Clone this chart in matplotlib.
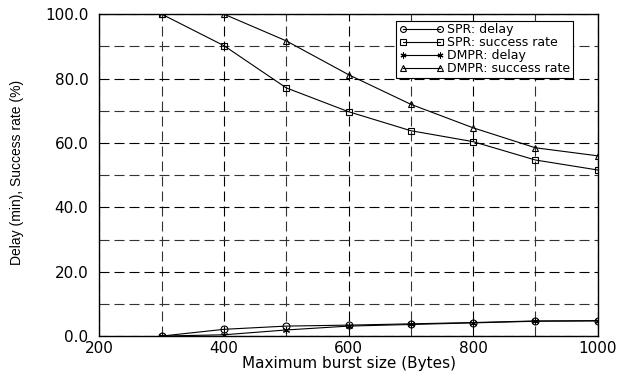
import matplotlib
matplotlib.use("Agg")
import matplotlib.pyplot as plt
from matplotlib.ticker import MultipleLocator, FormatStrFormatter

plt.rcParams["font.family"] = ["DejaVu Sans"]

# burst size (Bytes)
burst = [300, 400, 500, 600, 700, 800, 900, 1000]

spr_delay = [0.0, 2.1, 3.1, 3.4, 3.8, 4.2, 4.7, 4.8]
spr_success = [100.0, 90.2, 77.1, 69.7, 63.8, 60.4, 54.7, 51.6]
dmpr_delay = [0.0, 0.4, 1.9, 3.1, 3.6, 4.1, 4.6, 4.7]
dmpr_success = [100.0, 100.0, 91.7, 81.2, 72.0, 64.7, 58.5, 56.0]

fig = plt.figure(figsize=(6.18, 3.73), dpi=100)
ax = fig.add_axes([0.161, 0.099, 0.806, 0.863])

kw = dict(color="black", linewidth=0.8, markersize=5, markerfacecolor="none",
          markeredgecolor="black", markeredgewidth=0.8)
ax.plot(burst, spr_delay, marker="o", label="SPR: delay", **kw)
ax.plot(burst, spr_success, marker="s", label="SPR: success rate", **kw)
ax.plot(burst, dmpr_delay, marker=(6, 2, 0), label="DMPR: delay", **kw)
ax.plot(burst, dmpr_success, marker="^", label="DMPR: success rate", **kw)

ax.set_xlim(200, 1000)
ax.set_ylim(0, 100)
ax.xaxis.set_major_locator(MultipleLocator(200))
ax.xaxis.set_minor_locator(MultipleLocator(100))
ax.yaxis.set_major_locator(MultipleLocator(20))
ax.yaxis.set_minor_locator(MultipleLocator(10))
ax.yaxis.set_major_formatter(FormatStrFormatter("%.1f"))

ax.grid(True, which="major", color="black", linestyle=(0, (9, 4.5)), linewidth=0.8)
ax.grid(True, which="minor", color="#333333", linestyle=(0, (9, 4.5)), linewidth=0.8)
ax.tick_params(which="both", direction="in", length=0, labelsize=11)
ax.tick_params(axis="x", pad=3.5)
ax.tick_params(axis="y", pad=8)

ax.set_xlabel("Maximum burst size (Bytes)", fontsize=11, labelpad=0)
ax.set_ylabel("Delay (min), Success rate (%)", fontsize=10,
              family="Liberation Sans")
ax.yaxis.set_label_coords(-0.151, 0.508)

for s in ax.spines.values():
    s.set_linewidth(1.0)

# gnuplot-style key: marker at both ends of the sample line
leg = ax.legend(loc="upper right", bbox_to_anchor=(0.95, 0.98), fontsize=9,
                numpoints=2, fancybox=False, framealpha=1, edgecolor="black",
                borderpad=0.2, labelspacing=0.0, handlelength=3.6,
                handletextpad=0.25, borderaxespad=0, markerscale=0.85)
leg.get_frame().set_linewidth(0.8)

fig.savefig("out.png", dpi=100)
